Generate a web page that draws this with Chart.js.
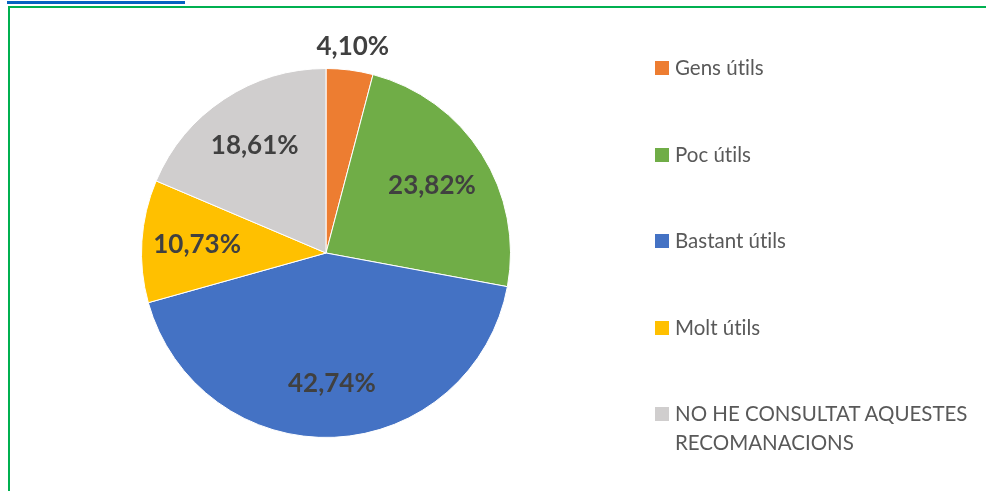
<!DOCTYPE html>
<html>
<head>
<meta charset="utf-8">
<script src="https://cdn.jsdelivr.net/npm/chart.js@4"></script>
<style>
    body { margin: 0; background: #fff; }
    #wrap { position: relative; width: 986px; height: 491px; overflow: hidden; }
    #blueLine { position: absolute; left: 7px; top: 1px; width: 178px; height: 3px; background: #0563C1; }
    #greenTop { position: absolute; left: 8px; top: 6px; width: 978px; height: 2px; background: #00B050; }
    #greenLeft { position: absolute; left: 8px; top: 6px; width: 2px; height: 485px; background: #00B050; }
    #chartBox { position: absolute; left: 0; top: 0; width: 986px; height: 491px; }
    #legend { position: absolute; left: 655px; top: 0; font-family: Lato, sans-serif; font-size: 20.5px; color: #595959; font-variant-ligatures: none; }
    .item { position: absolute; left: 0; white-space: nowrap; line-height: 29px; }
    .swatch { position: absolute; left: 0; top: 8px; width: 14px; height: 14px; }
    .text { position: absolute; left: 20px; top: 0; }
</style>
</head>
<body>
<div id="wrap">
    <div id="chartBox"><canvas id="pieChart"></canvas></div>
    <div id="blueLine"></div>
    <div id="greenTop"></div>
    <div id="greenLeft"></div>
    <div id="legend"></div>
</div>
<script>
// Dades del gràfic
const categories = ['Gens útils', 'Poc útils', 'Bastant útils', 'Molt útils', 'NO HE CONSULTAT AQUESTES RECOMANACIONS'];
const legendLines = [['Gens útils'], ['Poc útils'], ['Bastant útils'], ['Molt útils'], ['NO HE CONSULTAT AQUESTES', 'RECOMANACIONS']];
const percentages = [4.10, 23.82, 42.74, 10.73, 18.61];
const sliceColors = ['#ED7D31', '#70AD47', '#4472C4', '#FFC000', '#D0CECE'];

// distancia de l'etiqueta respecte al radi (la primera queda fora)
const labelRadius = [1.13, 0.68, 0.71, 0.70, 0.70];

const pctLabels = {
    id: 'pctLabels',
    afterDatasetsDraw(chart) {
        const ctx = chart.ctx;
        const meta = chart.getDatasetMeta(0);
        ctx.save();
        ctx.font = 'bold 26px Lato, sans-serif';
        ctx.fillStyle = '#404040';
        ctx.textAlign = 'center';
        ctx.textBaseline = 'middle';
        meta.data.forEach((arc, i) => {
            const p = arc.getProps(['x', 'y', 'startAngle', 'endAngle', 'outerRadius'], true);
            const mid = (p.startAngle + p.endAngle) / 2;
            const r = p.outerRadius * labelRadius[i];
            const txt = percentages[i].toFixed(2).replace('.', ',') + '%';
            ctx.fillText(txt, p.x + Math.cos(mid) * r, p.y + Math.sin(mid) * r);
        });
        ctx.restore();
    }
};

document.addEventListener('DOMContentLoaded', () => {
    // llegenda a mà, per imitar l'espaiat d'Excel
    const legend = document.getElementById('legend');
    legendLines.forEach((lines, i) => {
        const item = document.createElement('div');
        item.className = 'item';
        item.style.top = (53 + i * 86.5) + 'px';
        item.innerHTML = `<span class="swatch" style="background:${sliceColors[i]}"></span><span class="text">${lines.join('<br>')}</span>`;
        legend.appendChild(item);
    });

    const ctx = document.getElementById('pieChart').getContext('2d');
    new Chart(ctx, {
        type: 'pie',
        data: {
            labels: categories,
            datasets: [{
                data: percentages,
                backgroundColor: sliceColors,
                borderColor: '#ffffff',
                borderWidth: 1
            }]
        },
        options: {
            responsive: true,
            maintainAspectRatio: false,
            animation: false,
            layout: { padding: { left: 141, top: 68, right: 475, bottom: 53 } },
            plugins: {
                legend: { display: false },
                tooltip: { enabled: false }
            }
        },
        plugins: [pctLabels]
    });
});
</script>
</body>
</html>
